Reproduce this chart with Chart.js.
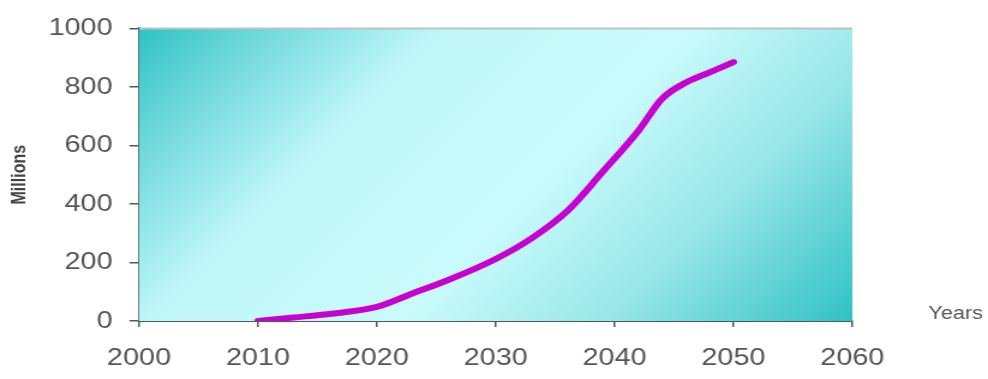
<!DOCTYPE html>
<html>
<head>
<meta charset="utf-8">
<script src="https://cdn.jsdelivr.net/npm/chart.js@4/dist/chart.umd.min.js"></script>
<style>
  html, body { margin: 0; padding: 0; background: #ffffff; overflow: hidden; }
  #wrap {
    position: absolute; left: 0; top: 0;
    width: 823px; height: 379px;
    transform: scaleX(1.2005); transform-origin: 0 0;
  }
</style>
</head>
<body>
<div id="wrap"><canvas id="chart"></canvas></div>
<script>
// Projected growth, millions of units per year
const years    = [2010, 2013, 2016, 2020, 2023, 2026, 2030, 2033, 2036, 2039, 2042, 2044, 2046, 2048, 2050];
const millions = [0, 12, 24, 48, 94, 140, 212, 282, 375, 510, 650, 760, 815, 850, 885];

const xTicks = [2000, 2010, 2020, 2030, 2040, 2050, 2060];
const yTicks = [0, 200, 400, 600, 800, 1000];

const xAxisTitle = 'Years';
const yAxisTitle = 'Millions';

const points = years.map((y, i) => ({ x: y, y: millions[i] }));

const textGray = '#555555';
const axisGray = '#4e5a5a';

// Diagonal teal background behind the plot area, plus the top rim and the "Years" label
const plotDecor = {
  id: 'plotDecor',
  beforeDatasetsDraw(chart) {
    const { ctx, chartArea: a } = chart;
    const W = a.right - a.left, H = a.bottom - a.top, sx = 1.2;
    const k = (sx * W + H) / (sx * sx + 1);
    const g = ctx.createLinearGradient(a.left, a.top, a.left + k * sx, a.top + k);
    g.addColorStop(0.00, 'rgb(48,194,197)');
    g.addColorStop(0.12, 'rgb(110,216,219)');
    g.addColorStop(0.30, 'rgb(192,247,249)');
    g.addColorStop(0.55, 'rgb(202,251,252)');
    g.addColorStop(0.76, 'rgb(150,230,232)');
    g.addColorStop(1.00, 'rgb(48,194,197)');
    ctx.save();
    ctx.fillStyle = g;
    ctx.fillRect(a.left, a.top, W, H);
    ctx.strokeStyle = '#b9c4c4';
    ctx.lineWidth = 2;
    ctx.beginPath();
    ctx.moveTo(a.left, a.top);
    ctx.lineTo(a.right, a.top);
    ctx.stroke();
    ctx.restore();
  },
  afterDraw(chart) {
    const { ctx } = chart;
    ctx.save();
    ctx.fillStyle = textGray;
    ctx.font = '18px "Liberation Sans", Arial, sans-serif';
    ctx.textAlign = 'center';
    ctx.textBaseline = 'middle';
    ctx.fillText(xAxisTitle, 796, 314);
    ctx.restore();
  }
};

new Chart(document.getElementById('chart'), {
  type: 'line',
  data: {
    datasets: [{
      data: points,
      borderColor: '#c800d2',
      borderWidth: 6,
      borderCapStyle: 'round',
      borderJoinStyle: 'round',
      pointRadius: 0,
      fill: false,
      cubicInterpolationMode: 'monotone'
    }]
  },
  options: {
    responsive: true,
    maintainAspectRatio: false,
    animation: false,
    events: [],
    layout: { padding: { top: 28, right: 113, bottom: 0, left: 0 } },
    plugins: { legend: { display: false }, tooltip: { enabled: false } },
    scales: {
      x: {
        type: 'linear',
        min: xTicks[0],
        max: xTicks[xTicks.length - 1],
        afterFit(s) { s.height = 58; },
        afterBuildTicks(s) { s.ticks = xTicks.map(v => ({ value: v })); },
        ticks: {
          color: textGray,
          font: { family: '"Liberation Sans", Arial, sans-serif', size: 24 },
          padding: 17,
          maxRotation: 0,
          callback: v => String(v)
        },
        grid: { drawOnChartArea: false, drawTicks: true, tickLength: 6, color: axisGray, lineWidth: 1.5 },
        border: { color: axisGray, width: 2 }
      },
      y: {
        min: yTicks[0],
        max: yTicks[yTicks.length - 1],
        afterFit(s) { s.width = 115.8; },
        afterBuildTicks(s) { s.ticks = yTicks.map(v => ({ value: v })); },
        ticks: {
          color: textGray,
          font: { family: '"Liberation Sans", Arial, sans-serif', size: 24 },
          padding: 14,
          callback: v => String(v)
        },
        title: {
          display: true,
          text: yAxisTitle,
          color: '#444444',
          font: { family: '"Liberation Sans", Arial, sans-serif', size: 16, weight: 'bold' },
          padding: { top: 7, bottom: 0 }
        },
        grid: { drawOnChartArea: false, drawTicks: true, tickLength: 8, color: axisGray, lineWidth: 1.5 },
        border: { color: axisGray, width: 2 }
      }
    }
  },
  plugins: [plotDecor]
});
</script>
</body>
</html>
